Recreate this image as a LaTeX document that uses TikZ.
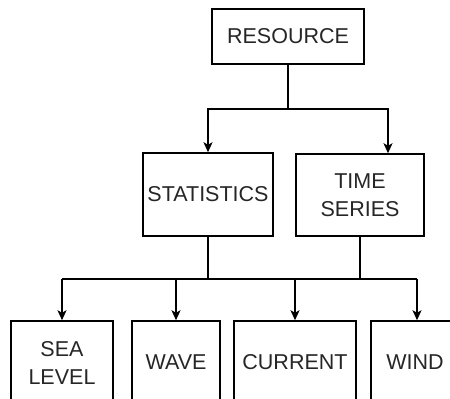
\documentclass[tikz,border=0pt]{standalone}
\usepackage{fontspec}
\setmainfont{Liberation Sans}
\usetikzlibrary{arrows.meta}
\begin{document}
\begin{tikzpicture}[x=1pt,y=-1pt,
  box/.style={draw=black, line width=1.5pt, inner sep=0pt, align=center,
    text=black!85, font=\fontsize{21.5}{28}\selectfont},
  wire/.style={draw=black, line width=1.5pt},
  arr/.style={wire, -{Stealth[length=10pt,width=9pt,inset=2.5pt]}}]
\useasboundingbox (0,0) rectangle (450,399);
\clip (0,0) rectangle (450,399);
% top level
\node[box, minimum width=152pt, minimum height=55pt] (res) at (288,36.5) {RESOURCE};
% second level
\node[box, minimum width=130pt, minimum height=83pt] (stat) at (208,194.5) {STATISTICS};
\node[box, minimum width=128pt, minimum height=82pt] (ts) at (360,195) {TIME\\SERIES};
% third level
\node[box, minimum width=102pt, minimum height=83pt] (sea) at (62,362.5) {SEA\\LEVEL};
\node[box, minimum width=88pt, minimum height=83pt] (wave) at (176,362.5) {WAVE};
\node[box, minimum width=122pt, minimum height=83pt] (cur) at (295,362.5) {CURRENT};
\node[box, minimum width=88pt, minimum height=83pt] (wind) at (415,362.5) {WIND};
% connectors from the top
\coordinate (split) at (288,109);
\draw[wire] (res.south) -- (split);
\draw[arr] (split) -| (stat.north);
\draw[arr] (split) -| ([xshift=28pt]ts.north);
% bus to the third level
\coordinate (bus) at (208,279);
\draw[wire] (stat.south) -- (stat.south |- bus);
\draw[wire] (ts.south) -- (ts.south |- bus);
\draw[wire] (sea.north |- bus) -- ([xshift=2pt]wind.north |- bus);
\draw[arr] (sea.north |- bus) -- (sea.north);
\draw[arr] (wave.north |- bus) -- (wave.north);
\draw[arr] (cur.north |- bus) -- (cur.north);
\draw[arr] ([xshift=2pt]wind.north |- bus) -- ([xshift=2pt]wind.north);
\end{tikzpicture}
\end{document}
